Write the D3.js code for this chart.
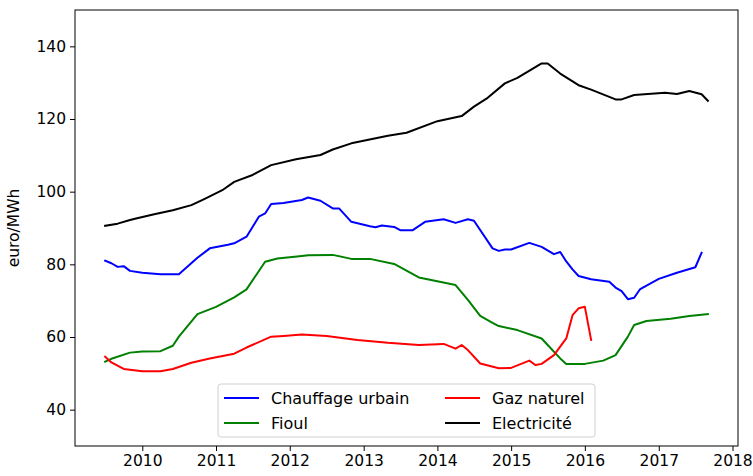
<!DOCTYPE html>
<html>
<head>
<meta charset="utf-8">
<script src="https://cdn.jsdelivr.net/npm/d3@7"></script>
<style>
  body { margin: 0; background: #fff; }
  text { font-family: "DejaVu Sans", sans-serif; fill: #000; }
</style>
</head>
<body>
<script>
// data (monthly dates, euro/MWh)
var chauffageDates = ["2009-07","2009-08","2009-09","2009-10","2009-11","2010-01","2010-04","2010-07","2010-10","2010-12",
  "2011-03","2011-04","2011-06","2011-08","2011-09","2011-10","2011-12","2012-03","2012-04","2012-06","2012-08","2012-09",
  "2012-11","2013-02","2013-03","2013-04","2013-06","2013-07","2013-09","2013-11","2014-02","2014-04","2014-06","2014-07",
  "2014-10","2014-11","2014-12","2015-01","2015-04","2015-06","2015-08","2015-09","2015-10","2015-11","2015-12","2016-02",
  "2016-05","2016-06","2016-07","2016-08","2016-09","2016-10","2017-01","2017-04","2017-07","2017-08"];
var chauffageValues = [81.0,80.3,79.3,79.5,78.2,77.7,77.3,77.3,81.8,84.4,
  85.4,85.8,87.6,93.1,94.0,96.6,96.9,97.7,98.4,97.5,95.4,95.4,
  91.7,90.5,90.2,90.7,90.3,89.4,89.4,91.7,92.4,91.4,92.4,92.0,
  84.4,83.7,84.1,84.1,85.9,84.8,82.8,83.4,80.8,78.6,76.8,75.9,
  75.2,73.6,72.6,70.4,70.8,73.2,76.0,77.7,79.2,83.2];

var fioulDates = ["2009-07","2009-08","2009-11","2010-01","2010-04","2010-06","2010-07","2010-10","2011-01","2011-04",
  "2011-06","2011-09","2011-11","2012-03","2012-04","2012-08","2012-11","2013-02","2013-06","2013-10","2013-12","2014-04",
  "2014-06","2014-08","2014-10","2014-11","2015-02","2015-06","2015-07","2015-09","2015-10","2016-01","2016-04","2016-06",
  "2016-08","2016-09","2016-11","2017-03","2017-06","2017-09"];
var fioulValues = [53.2,54.0,55.7,56.0,56.1,57.6,60.1,66.3,68.3,70.9,
  73.1,80.7,81.6,82.3,82.5,82.6,81.5,81.5,80.1,76.4,75.7,74.3,
  70.2,65.8,63.9,63.0,61.9,59.6,57.8,54.1,52.6,52.6,53.5,55.0,
  60.1,63.3,64.4,65.0,65.8,66.3];

var gazDates = ["2009-07","2009-08","2009-10","2010-01","2010-04","2010-06","2010-09","2010-12","2011-04","2011-06",
  "2011-10","2011-12","2012-03","2012-07","2012-12","2013-05","2013-10","2014-02","2014-03","2014-04","2014-05","2014-06",
  "2014-08","2014-11","2015-01","2015-04","2015-05","2015-06","2015-08","2015-10","2015-11","2015-12","2016-01","2016-02"];
var gazValues = [54.6,53.0,51.2,50.6,50.6,51.2,52.9,54.1,55.4,57.1,
  60.1,60.3,60.7,60.3,59.2,58.4,57.8,58.1,57.5,56.8,57.8,56.4,
  52.7,51.4,51.5,53.5,52.3,52.6,55.0,59.6,66.0,67.9,68.3,59.2];

var elecDates = ["2009-07","2009-09","2009-11","2009-12","2010-03","2010-06","2010-09","2010-11","2011-02","2011-04",
  "2011-07","2011-10","2012-02","2012-06","2012-08","2012-11","2013-05","2013-08","2014-01","2014-05","2014-07","2014-09",
  "2014-12","2015-02","2015-06","2015-07","2015-09","2015-12","2016-02","2016-06","2016-07","2016-09","2017-02","2017-04",
  "2017-06","2017-08","2017-09"];
var elecValues = [90.6,91.2,92.2,92.6,93.8,94.9,96.3,97.9,100.4,102.7,
  104.6,107.3,108.9,110.1,111.6,113.3,115.4,116.2,119.4,120.8,123.4,125.6,
  129.8,131.3,135.3,135.3,132.5,129.3,128.1,125.4,125.4,126.6,127.2,126.9,
  127.7,126.8,125.0];

var seriesNames = ["Chauffage urbain", "Fioul", "Gaz naturel", "Electricité"];
var seriesColors = ["blue", "green", "red", "black"];
var yTicks = [40, 60, 80, 100, 120, 140];
var xTickYears = [2010, 2011, 2012, 2013, 2014, 2015, 2016, 2017, 2018];

var svgWidth = 753;
var svgHeight = 476;
var margin = { top: 10, right: 15, bottom: 30, left: 75 };
var chartWidth = svgWidth - margin.left - margin.right;
var chartHeight = svgHeight - margin.top - margin.bottom;
var fontSize = 15.5;

var parseMonth = d3.timeParse("%Y-%m");
function build(dates, values) {
  return dates.map((d, i) => ({ date: parseMonth(d), value: values[i] }));
}
var series = [
  build(chauffageDates, chauffageValues),
  build(fioulDates, fioulValues),
  build(gazDates, gazValues),
  build(elecDates, elecValues)
];

var svg = d3.select("body").append("svg")
  .attr("width", svgWidth)
  .attr("height", svgHeight);

var chartGroup = svg.append("g")
  .attr("transform", `translate(${margin.left}, ${margin.top})`);

// matplotlib-like 5% padding on the time axis
var allDates = series.flat().map(d => d.date);
var ext = d3.extent(allDates);
var pad = (ext[1] - ext[0]) * 0.05;
var xScale = d3.scaleTime()
  .domain([new Date(+ext[0] - pad), new Date(+ext[1] + pad)])
  .range([0, chartWidth]);

var yScale = d3.scaleLinear()
  .domain([30, 150])
  .range([chartHeight, 0]);

var bottomAxis = d3.axisBottom(xScale)
  .tickValues(xTickYears.map(y => new Date(y, 0, 1)))
  .tickFormat(d3.timeFormat("%Y"))
  .tickSize(5).tickPadding(4);
var leftAxis = d3.axisLeft(yScale)
  .tickValues(yTicks)
  .tickSize(5).tickPadding(4);

var xg = chartGroup.append("g")
  .attr("transform", `translate(0, ${chartHeight})`)
  .call(bottomAxis);
var yg = chartGroup.append("g").call(leftAxis);

[xg, yg].forEach(g => {
  g.select(".domain").remove();
  g.selectAll("line").attr("stroke", "#000").attr("stroke-width", 1);
  g.selectAll("text").attr("font-size", fontSize).attr("font-family", "DejaVu Sans").attr("fill", "#000");
});

var drawLine = d3.line()
  .x(d => xScale(d.date))
  .y(d => yScale(d.value));

series.forEach((s, i) => {
  chartGroup.append("path")
    .datum(s)
    .attr("fill", "none")
    .attr("stroke", seriesColors[i])
    .attr("stroke-width", 2)
    .attr("stroke-linejoin", "round")
    .attr("stroke-linecap", "square")
    .attr("d", drawLine);
});

// frame
chartGroup.append("rect")
  .attr("x", 0).attr("y", 0)
  .attr("width", chartWidth).attr("height", chartHeight)
  .attr("fill", "none")
  .attr("stroke", "#000")
  .attr("stroke-width", 1);

// y axis title
chartGroup.append("text")
  .attr("transform", "rotate(-90)")
  .attr("x", -chartHeight / 2)
  .attr("y", -56)
  .attr("text-anchor", "middle")
  .attr("font-size", fontSize)
  .text("euro/MWh");

// legend, two columns
var legend = chartGroup.append("g")
  .attr("transform", `translate(${218 - margin.left}, ${384 - margin.top})`);
legend.append("rect")
  .attr("width", 377).attr("height", 53)
  .attr("rx", 3)
  .attr("fill", "#fff").attr("fill-opacity", 0.8)
  .attr("stroke", "#d0d0d0");

seriesNames.forEach((name, i) => {
  var col = Math.floor(i / 2), row = i % 2;
  var item = legend.append("g")
    .attr("transform", `translate(${6 + col * 221}, ${14 + row * 25})`);
  item.append("line")
    .attr("x1", 0).attr("x2", 35)
    .attr("stroke", seriesColors[i]).attr("stroke-width", 2);
  item.append("text")
    .attr("x", 47).attr("dy", "0.35em")
    .attr("font-size", 16)
    .text(name);
});
</script>
</body>
</html>
